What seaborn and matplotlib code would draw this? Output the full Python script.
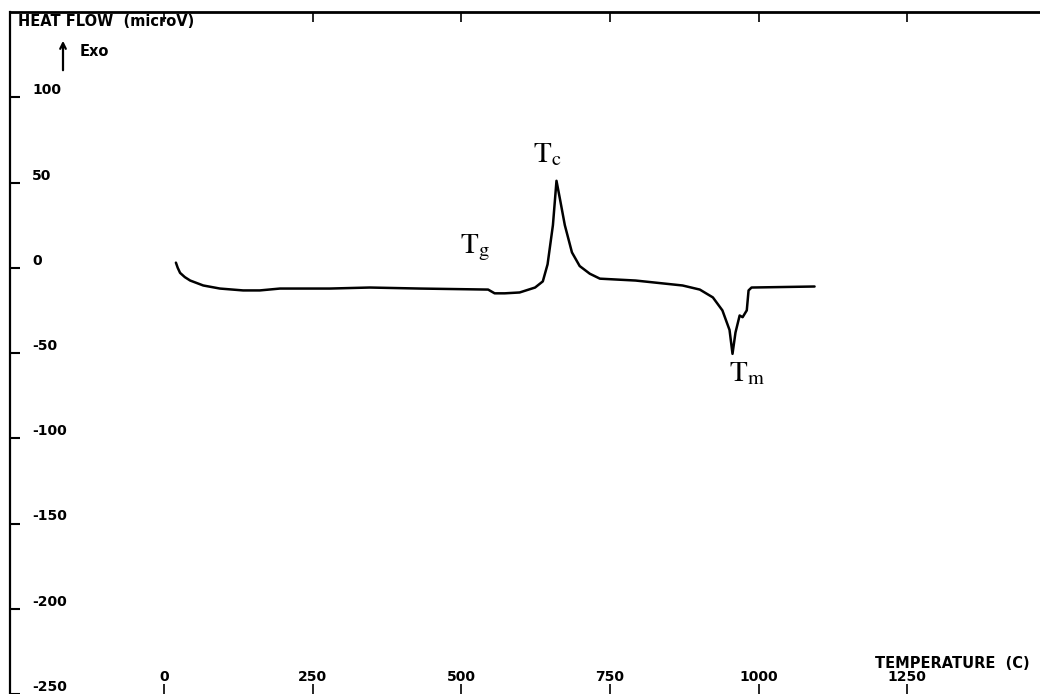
import matplotlib
matplotlib.use("Agg")
import matplotlib.pyplot as plt
import numpy as np
import pandas as pd
import seaborn as sns

# ---- data ----
temperature_c = [20, 23, 27, 35, 44, 66, 94, 133, 161, 195, 279, 346, 430, 545, 556, 573,
                 598, 624, 637, 645, 654, 660, 666, 674, 686, 699, 716, 733, 793,
                 872, 901, 923, 939, 951, 956, 961, 968, 973, 980, 983, 988, 1094]
heat_flow_uv = [3, 0, -3, -5.5, -7.5, -10.4, -12.2, -13.3, -13.3, -12.2, -12.2, -11.6, -12.2,
                -12.8, -15, -15, -14.5, -11.6, -8, 2, 25, 51, 40, 25, 9, 1, -3.5,
                -6.4, -7.5, -10.4, -12.8, -17.4, -25, -36.5, -50.5, -38, -28, -29,
                -25, -13.3, -11.6, -11]
x_ticks = [0, 250, 500, 750, 1000, 1250]
y_ticks = [-250, -200, -150, -100, -50, 0, 50, 100]
peak_labels = [r"$\mathrm{T_g}$", r"$\mathrm{T_c}$", r"$\mathrm{T_m}$"]
peak_label_x = [523, 645, 981]
peak_label_y = [11.6, 66.7, -62]

sns.set_style("white")
plt.rcParams["font.family"] = ["DejaVu Sans"]
plt.rcParams["mathtext.fontset"] = "stix"
plt.rcParams["text.color"] = "black"

df = pd.DataFrame({"T": temperature_c, "HF": heat_flow_uv})

fig = plt.figure(figsize=(10.4, 6.94), dpi=100)
ax = fig.add_axes([10 / 1040, 0.0, (1056 - 10) / 1040, (694 - 12) / 694])

sns.lineplot(data=df, x="T", y="HF", ax=ax, sort=False, estimator=None,
             color="black", linewidth=1.8)

ax.set_xlim(-259, 1500)
ax.set_ylim(-250, 150)
ax.set_xlabel("")
ax.set_ylabel("")

ax.set_xticks(x_ticks)
ax.set_xticklabels([str(v) for v in x_ticks], fontsize=10, fontweight="bold")
ax.set_yticks(y_ticks)
ax.set_yticklabels([str(v) for v in y_ticks], fontsize=10, fontweight="bold")

ax.tick_params(axis="x", which="both", direction="in", top=True, bottom=True,
               length=7, width=1.2, pad=-17, colors="black", labelcolor="black")
ax.tick_params(axis="y", which="both", direction="in", left=True, right=False,
               length=7, width=1.5, pad=-16, colors="black", labelcolor="black")
plt.setp(ax.get_yticklabels(), ha="left", va="bottom")

ax.spines["top"].set_linewidth(2.0)
ax.spines["left"].set_linewidth(1.6)
ax.spines["right"].set_visible(False)
ax.spines["bottom"].set_visible(False)
for side in ["top", "left"]:
    ax.spines[side].set_color("black")

for lab, lx, ly in zip(peak_labels, peak_label_x, peak_label_y):
    ax.text(lx, ly, lab, fontsize=21, ha="center", va="center", color="black")

fig.text(18 / 1040, 1 - 22 / 694, "HEAT FLOW  (microV)", fontsize=10.5,
         fontweight="bold", ha="left", va="center", color="black")
ax.annotate("", xy=(63 / 1040, 1 - 38 / 694), xytext=(63 / 1040, 1 - 73 / 694),
            xycoords="figure fraction", textcoords="figure fraction",
            arrowprops=dict(arrowstyle="->", color="black", lw=1.6))
fig.text(80 / 1040, 1 - 52 / 694, "Exo", fontsize=10.5, fontweight="bold",
         ha="left", va="center", color="black")
fig.text(952 / 1040, 1 - 663 / 694, "TEMPERATURE  (C)", fontsize=10.5,
         fontweight="bold", ha="center", va="center", color="black")

fig.savefig("out.png", dpi=100, facecolor="white")
